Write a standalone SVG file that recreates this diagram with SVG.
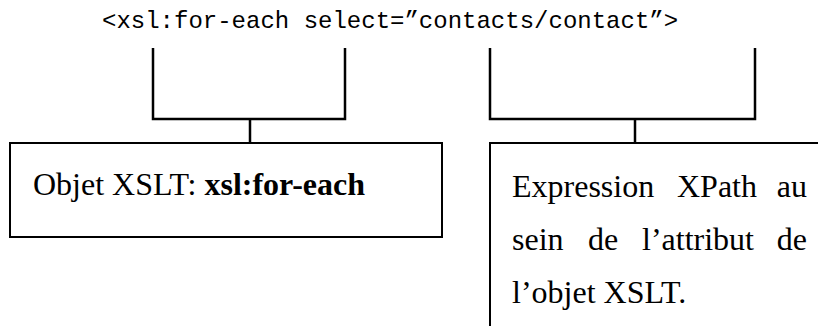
<svg xmlns="http://www.w3.org/2000/svg" width="818" height="326" viewBox="0 0 818 326">
<style>
.br{fill:none;stroke:#000;stroke-width:2.5}
.box{fill:#fff;stroke:#000;stroke-width:2}
.mono{font-family:"Liberation Mono","Courier New",monospace;font-size:24px;fill:#000}
.serif{font-family:"Liberation Serif","Times New Roman",serif;font-size:32px;fill:#000}
.b{font-weight:bold}
</style>
<rect width="818" height="326" fill="#fff"/>
<g id="code">
<text class="mono" x="102" y="28">&lt;xsl:for-each select=”contacts/contact”&gt;</text>
</g>
<g id="connectors">
<path class="br" d="M153 48V119H345V48"/>
<path class="br" d="M250 119V143"/>
<path class="br" d="M490 48V119H755V48"/>
<path class="br" d="M635 119V143"/>
</g>
<g id="node-objet">
<rect class="box" x="10" y="143" width="432" height="94"/>
<text class="serif" x="33" y="195">Objet XSLT: <tspan class="b">xsl:for-each</tspan></text>
</g>
<g id="node-expression">
<rect class="box" x="490" y="143" width="340" height="200"/>
<text class="serif" y="197"><tspan x="512">Expression</tspan><tspan x="677">XPath</tspan><tspan x="807" text-anchor="end">au</tspan></text>
<text class="serif" y="250"><tspan x="512">sein</tspan><tspan x="588">de</tspan><tspan x="642">l’attribut</tspan><tspan x="807" text-anchor="end">de</tspan></text>
<text class="serif" x="512" y="303">l’objet XSLT.</text>
</g>
</svg>
